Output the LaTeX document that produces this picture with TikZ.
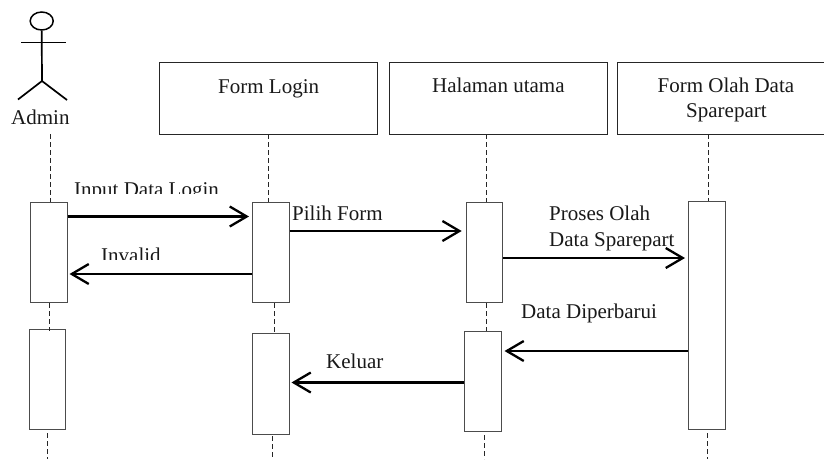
\documentclass[tikz,border=0pt]{standalone}
\usepackage{fontspec}
\setmainfont{Liberation Serif}
\usetikzlibrary{arrows.meta,shapes.geometric}
\tikzset{
  x=1pt,y=-1pt,
  headbox/.style={draw=black!85,line width=1pt,minimum width=218pt,minimum height=72pt,inner sep=0pt,anchor=north west},
  actbox/.style={draw=black!70,line width=1pt,fill=white,minimum width=36.5pt,inner sep=0pt,anchor=north west},
  life/.style={draw=black!85,line width=.8pt,dash pattern=on 5pt off 3pt},
  msg/.style={draw=black,line width=2.5pt,-{Straight Barb[length=17pt,width=20pt,line width=2.3pt]}},
  limb/.style={draw=black,line width=1.7pt},
  lbl/.style={font=\fontsize{21}{26}\selectfont,inner sep=0pt,anchor=base west,text=black!90}
}
\begin{document}
\begin{tikzpicture}
\useasboundingbox (0,0) rectangle (824,459);
\clip (0,0) rectangle (824,459);
% actor
\node[draw=black,line width=1.5pt,ellipse,minimum width=23pt,minimum height=18pt,inner sep=0pt] (head) at (41.7,21) {};
\coordinate (hip) at (42,81);
\coordinate (armL) at (21,42.5);
\coordinate (armR) at (66,42.5);
\coordinate (legL) at (18,99.5);
\coordinate (legR) at (67,100);
\draw[limb] (head.south) -- (hip);
\draw[limb,line width=1.3pt] (armL) -- (armR);
\draw[limb] (legL) -- (hip) -- (legR);
\node[lbl] (admin) at (11,124) {Admin};
% head boxes
\node[headbox] (login) at (159,62) {};
\node[headbox] (utama) at (389,62) {};
\node[headbox] (olah) at (617,62) {};
\node[lbl] (tlogin) at (218,93) {Form Login};
\node[lbl] (tutama) at (432,92) {Halaman utama};
\node[lbl] (tolaha) at (657.5,92) {Form Olah Data};
\node[lbl] (tolahb) at (686,117.5) {Sparepart};
% activations
\node[actbox,minimum height=100pt] (a1) at (30,202) {};
\node[actbox,minimum height=100pt] (a2) at (28.5,329) {};
\node[actbox,minimum height=100pt] (l1) at (252,202) {};
\node[actbox,minimum height=100.5pt] (l2) at (252,333) {};
\node[actbox,minimum height=100pt] (h1) at (465.7,202.2) {};
\node[actbox,minimum height=100pt] (h2) at (464,331.4) {};
\node[actbox,minimum height=227.5pt] (s1) at (688,201) {};
% lifelines
\coordinate (aTop) at (50.5,134);
\coordinate (aMidA) at (49,303); \coordinate (aMidB) at (49,331);
\coordinate (aEndA) at (47.7,433); \coordinate (aEndB) at (47.7,459);
\coordinate (lTop) at (268.5,134.3);
\coordinate (uTop) at (486.3,134.3);
\coordinate (oTop) at (708.3,134.3);
\coordinate (lMidA) at (274.3,303); \coordinate (lEndA) at (272.7,436); \coordinate (lEndB) at (272.7,459);
\coordinate (uMidA) at (486.3,303); \coordinate (uEndA) at (484.7,435); \coordinate (uEndB) at (484.7,459);
\coordinate (oEndA) at (707.3,433); \coordinate (oEndB) at (707.3,459);
\draw[life] (aTop) -- (aTop |- a1.north);
\draw[life] (lTop) -- (lTop |- l1.north);
\draw[life] (uTop) -- (uTop |- h1.north);
\draw[life] (oTop) -- (oTop |- s1.north);
\draw[life] (aMidA) -- (aMidB);
\draw[life] (aEndA) -- (aEndB);
\draw[life] (lMidA) -- (lMidA |- l2.north);
\draw[life] (lEndA) -- (lEndB);
\draw[life] (uMidA) -- (uMidA |- h2.north);
\draw[life] (uEndA) -- (uEndB);
\draw[life] (oEndA) -- (oEndB);
% messages
\draw[msg] (a1.east |- 0,216.5) -- ([xshift=-3pt]l1.west |- 0,216.5);
\draw[msg] (l1.west |- 0,274) -- ([xshift=2pt]a1.east |- 0,274);
\draw[msg] (l1.east |- 0,231) -- ([xshift=-4pt]h1.west |- 0,231);
\draw[msg] (h1.east |- 0,258) -- ([xshift=-3pt]s1.west |- 0,258);
\draw[msg] (s1.west |- 0,351) -- ([xshift=3pt]h2.east |- 0,351);
\draw[msg] (h2.west |- 0,382.5) -- ([xshift=2pt]l2.east |- 0,382.5);
% labels, the first two cut off at the bottom as in the reference
\begin{scope}
\clip (60,170) rectangle (240,193.5);
\node[lbl] (tinput) at (74,196) {Input Data Login};
\end{scope}
\begin{scope}
\clip (90,235) rectangle (180,259.5);
\node[lbl] (tinvalid) at (101,262) {Invalid};
\end{scope}
\node[lbl] (tpilih) at (292,220) {Pilih Form};
\node[lbl] (tprosesa) at (549,220) {Proses Olah};
\node[lbl] (tprosesb) at (549,246) {Data Sparepart};
\node[lbl] (tdata) at (521,318) {Data Diperbarui};
\node[lbl] (tkeluar) at (326,368) {Keluar};
\end{tikzpicture}
\end{document}
